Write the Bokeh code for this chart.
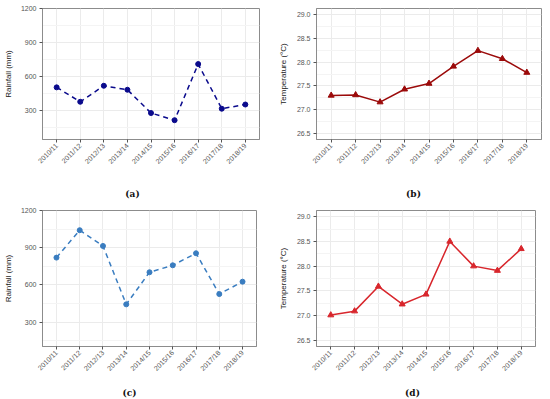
import math
from bokeh.plotting import figure
from bokeh.models import FixedTicker, Range1d, Label, NumeralTickFormatter
from bokeh.layouts import column, row
from bokeh.embed import file_html
from bokeh.resources import INLINE

seasons = ["2010/11", "2011/12", "2012/13", "2013/14", "2014/15",
           "2015/16", "2016/17", "2017/18", "2018/19"]
rain_a = [506, 379, 520, 485, 280, 217, 711, 318, 355]
temp_b = [27.30, 27.31, 27.16, 27.43, 27.55, 27.91, 28.24, 28.07, 27.78]
rain_c = [820, 1041, 914, 443, 702, 758, 855, 526, 626]
temp_d = [27.01, 27.09, 27.59, 27.23, 27.43, 28.50, 28.00, 27.91, 28.35]

rain_ticks = [300, 600, 900, 1200]
rain_minor = [150, 450, 750, 1050]
temp_ticks = [26.5, 27.0, 27.5, 28.0, 28.5, 29.0]
temp_minor = [26.75, 27.25, 27.75, 28.25, 28.75]
captions = ["(a)", "(b)", "(c)", "(d)"]

FONT = "Liberation Sans"


def panel(vals, color, marker, msize, dash, yr, yticks, yminor, fmt, ylabel,
          W, H, L, R, T, B, label_standoff):
    xs = list(range(1, len(seasons) + 1))
    p = figure(width=W, height=H, output_backend="svg", toolbar_location=None,
               x_range=Range1d(0.4, len(seasons) + 0.6), y_range=Range1d(*yr),
               min_border_left=L, min_border_right=R, min_border_top=T,
               min_border_bottom=B)
    p.background_fill_color = "white"
    p.border_fill_color = "white"
    p.outline_line_color = "#8C8C8C"
    p.outline_line_width = 1

    xt = FixedTicker(ticks=xs)
    yt = FixedTicker(ticks=yticks, minor_ticks=yminor)
    p.xaxis[0].ticker = xt
    p.yaxis[0].ticker = yt
    p.xgrid[0].ticker = xt
    p.ygrid[0].ticker = yt
    p.xaxis.major_label_overrides = {x: s for x, s in zip(xs, seasons)}
    p.xaxis.major_label_orientation = math.pi / 4
    p.yaxis.formatter = NumeralTickFormatter(format=fmt)

    for ax in (p.xaxis, p.yaxis):
        ax.axis_line_color = "#8C8C8C"
        ax.major_tick_line_color = "#555555"
        ax.major_tick_out = 3
        ax.major_tick_in = 0
        ax.minor_tick_line_color = None
        ax.major_label_text_font = FONT
        ax.major_label_text_font_size = "7px"
        ax.major_label_text_color = "#555555"
        ax.major_label_standoff = 2
    p.yaxis.axis_label = ylabel
    p.yaxis.axis_label_text_font = FONT
    p.yaxis.axis_label_text_font_size = "8px"
    p.yaxis.axis_label_text_font_style = "normal"
    p.yaxis.axis_label_text_color = "#1A1A1A"
    p.yaxis.axis_label_standoff = label_standoff

    p.xgrid.grid_line_color = "#EBEBEB"
    p.ygrid.grid_line_color = "#EBEBEB"
    p.ygrid.minor_grid_line_color = "#F4F4F4"
    p.xgrid.grid_line_width = 1
    p.ygrid.grid_line_width = 1

    p.line(xs, vals, line_color=color, line_width=1.5, line_dash=dash)
    p.scatter(xs, vals, marker=marker, size=msize, fill_color=color,
              line_color=color)
    return p


def caption_strip(text, W, H, cx):
    c = figure(width=W, height=H, output_backend="svg", toolbar_location=None,
               x_range=Range1d(0, W), y_range=Range1d(0, H),
               min_border_left=0, min_border_right=0, min_border_top=0,
               min_border_bottom=0)
    c.axis.visible = False
    c.grid.visible = False
    c.outline_line_color = None
    c.background_fill_color = "white"
    c.border_fill_color = "white"
    c.add_layout(Label(x=cx, y=H / 2, text=text, text_font="DejaVu Serif",
                       text_font_style="bold", text_font_size="9px",
                       text_color="#111111", text_align="center",
                       text_baseline="middle"))
    return c


pa = panel(rain_a, "#0A0A8C", "circle", 5, "5 4", (47, 1200), rain_ticks,
           rain_minor, "0", "Rainfall (mm)", 275, 186, 42, 16, 8, 47, 5)
pb = panel(temp_b, "#9B0A0A", "triangle", 6, "solid", (26.375, 29.125),
           temp_ticks, temp_minor, "0.0", "Temperature (°C)",
           275, 186, 41, 9, 6, 44, 6)
pc = panel(rain_c, "#3A7DC0", "circle", 5, "5 4", (103, 1200), rain_ticks,
           rain_minor, "0", "Rainfall (mm)", 275, 186, 41, 19, 10, 40, 5)
pd_ = panel(temp_d, "#D8262C", "triangle", 6, "solid", (26.375, 29.125),
            temp_ticks, temp_minor, "0.0", "Temperature (°C)",
            275, 186, 41, 15, 10, 40, 6)

ca = caption_strip(captions[0], 275, 14, 132)
cb = caption_strip(captions[1], 275, 14, 138)
cc = caption_strip(captions[2], 275, 13, 129)
cd = caption_strip(captions[3], 275, 13, 137)

layout = column(row(pa, pb), row(ca, cb), row(pc, pd_), row(cc, cd))
open("out.html", "w").write(file_html(layout, INLINE))
